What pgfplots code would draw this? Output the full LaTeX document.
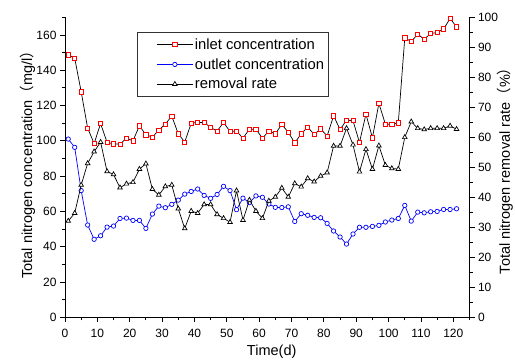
\documentclass[border=0pt]{standalone}
\usepackage{fontspec}
\setmainfont{Liberation Sans}
\newfontfamily\cjk{Noto Sans CJK SC}
\usepackage{pgfplots}
\usepackage{pgfplotstable}
\pgfplotsset{compat=1.18}
\usetikzlibrary{calc}

\pgfplotstableread{
x in out rate
1 148.7 101.0 32.1
3 146.8 96.3 34.7
5 127.8 71.8 44.1
7 107.2 52.3 51.3
9 98.5 44.2 55.2
11 109.8 46.2 58.4
13 99.1 51.1 48.6
15 98.3 51.7 47.6
17 98.1 56.0 43.2
19 101.5 56.2 44.5
21 100.0 54.9 45.0
23 108.5 54.9 49.4
25 103.4 50.4 51.2
27 102.1 58.5 42.7
29 106.1 63.0 40.8
31 109.5 62.1 43.6
33 114.0 64.0 44.1
35 104.0 66.4 36.2
37 99.3 69.8 29.6
39 110.0 71.3 35.4
41 110.4 72.7 34.7
43 110.4 69.1 37.6
45 107.6 67.4 37.6
47 105.5 69.6 34.3
49 110.4 74.2 33.0
51 105.3 71.8 31.7
53 105.5 61.0 42.2
55 101.5 67.5 32.4
57 106.6 65.0 39.1
59 106.6 68.8 35.4
61 101.5 68.0 33.0
63 105.5 64.2 38.8
65 104.0 62.3 40.1
67 109.3 62.2 43.1
69 104.8 62.6 40.1
71 98.9 54.3 44.6
73 104.0 58.7 43.5
75 107.8 57.8 46.3
77 103.6 56.6 45.2
79 106.8 56.4 47.1
81 102.7 53.2 48.2
83 114.2 48.9 57.1
85 106.4 45.5 57.1
87 111.7 41.5 63.0
89 111.4 47.2 57.5
91 99.1 51.0 48.5
93 115.1 51.0 56.0
95 101.7 51.5 49.4
97 121.2 52.1 57.2
99 109.5 54.0 50.7
101 109.3 55.1 49.6
103 110.2 56.0 49.4
105 158.3 63.4 60.0
107 156.3 54.5 65.2
109 160.4 59.6 63.0
111 157.6 59.2 62.6
113 160.8 59.8 63.0
115 161.4 60.0 63.0
117 163.4 61.1 63.0
119 169.3 61.1 63.8
121 164.6 61.5 62.7
}\data

\begin{document}
\begin{tikzpicture}
\pgfplotsset{
  every axis/.append style={
    scale only axis, width=404.5pt, height=300pt,
    xmin=0, xmax=125,
    axis line style={black, line width=0.9pt},
    tick style={black, line width=0.8pt},
    major tick length=5pt, minor tick length=3pt,
    tick align=outside,
    tick label style={font=\fontsize{12}{14}\selectfont},
    label style={font=\fontsize{14.5}{17}\selectfont},
    /pgf/number format/assume math mode=true,
  },
}
\begin{axis}[
  name=ax,
  axis x line*=bottom, axis y line*=left,
  ymin=0, ymax=170,
  xtick={0,10,...,120}, minor xtick={5,15,...,125},
  ytick={0,20,...,160}, minor ytick={10,30,...,170},
  xticklabel style={yshift=-3pt},
  xlabel={Time(d)},
  ylabel={Total nitrogen concentration{\cjk （}mg/l{\cjk ）}},
  xlabel style={at={(axis description cs:0.511,-0.116)}, anchor=center},
  ylabel style={at={(axis description cs:-0.093,0.52)}, anchor=center},
  legend style={at={(axis description cs:0.179,0.952)}, anchor=north west,
    draw=black!80, line width=0.8pt, font=\fontsize{14.8}{18}\selectfont,
    inner xsep=2pt, inner ysep=4.5pt, row sep=3.5pt},
  legend cell align=left,
  legend image code/.code={\path (-0.6cm,0cm); \draw[mark repeat=2,mark phase=2] plot coordinates {(0cm,0cm) (0.62cm,0cm) (1.24cm,0cm)};},
]
\addplot[black, line width=0.7pt, mark=square*, mark size=2.1pt, mark options={draw=red, fill=white, line width=0.7pt, solid}] table[x=x, y=in] {\data};
\addlegendentry{inlet concentration}
\addplot[blue, line width=0.7pt, mark=*, mark size=2.2pt, mark options={draw=blue, fill=white, line width=0.7pt, solid}] table[x=x, y=out] {\data};
\addlegendentry{outlet concentration}
\addlegendimage{black, line width=0.7pt, mark=triangle*, mark size=2.7pt, mark options={draw=black, fill=white, line width=0.7pt, solid}}
\addlegendentry{removal rate}
\end{axis}
\begin{axis}[
  axis x line=none, axis y line*=right,
  ymin=0, ymax=100,
  ytick={0,10,...,100}, minor ytick={5,15,...,95},
  ylabel={Total nitrogen removal rate{\cjk （}\%{\cjk ）}},
  ylabel style={at={(axis description cs:1.088,0.5)}, anchor=center},
]
\addplot[black, line width=0.7pt, mark=triangle*, mark size=2.7pt, mark options={draw=black, fill=white, line width=0.7pt, solid}] table[x=x, y=rate] {\data};
\end{axis}
\pgfresetboundingbox
\path ($(ax.south west)+(-65pt,-43.7pt)$) rectangle ++(515pt,361pt);
\end{tikzpicture}
\end{document}
